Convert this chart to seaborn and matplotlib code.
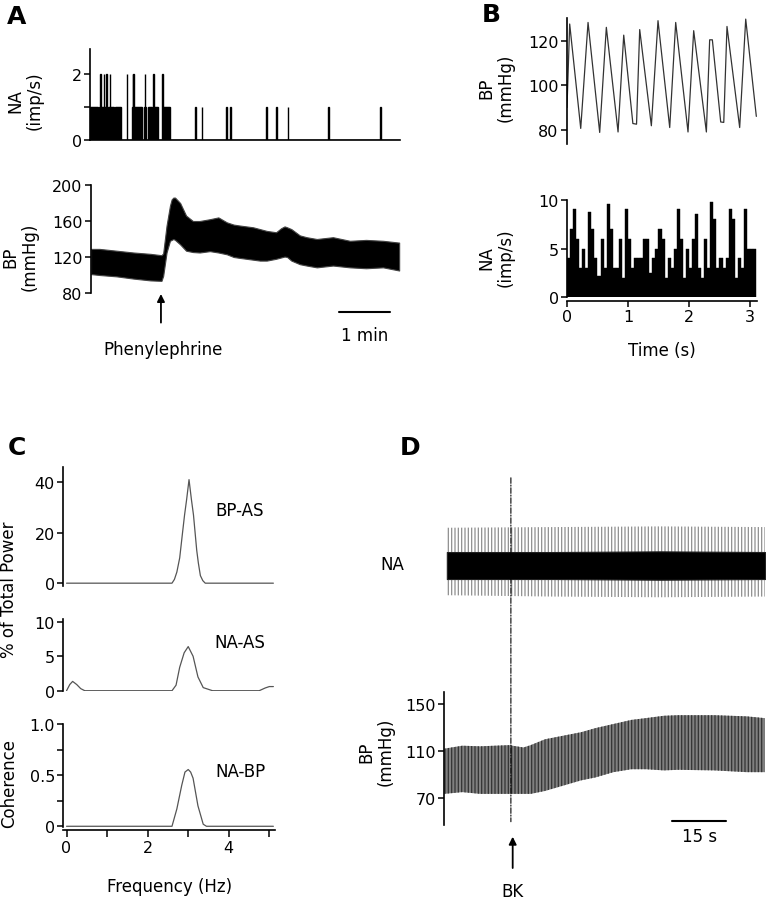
import numpy as np
import matplotlib
matplotlib.use("Agg")
import matplotlib.pyplot as plt
from matplotlib.patches import ConnectionPatch
from matplotlib.ticker import FixedLocator
import seaborn as sns

# ---------------- data ----------------
# A: nerve activity (imp/s, 1 s bins) and BP envelope around phenylephrine
na_a_sec = [0, 1, 2, 3, 4, 5, 6, 7, 8, 11, 12, 13, 14, 15, 16, 17, 18, 19,
            21, 22, 23, 24, 25, 26, 27, 29, 30, 31, 32, 33, 34, 35, 43,
            49, 50, 51, 52, 53, 54, 55, 56, 57, 58, 59, 60, 63, 64, 65,
            68, 69, 70, 71, 72, 74, 75, 76, 77, 78, 79,
            85, 86, 87, 88, 89, 90, 91, 92, 93,
            123, 131, 160, 164, 207, 218, 232, 280, 341]
na_a_rate = [1, 1, 1, 1, 1, 1, 1, 1, 1, 1, 2, 1, 1, 1, 2, 1, 1, 2,
             1, 1, 2, 1, 1, 1, 1, 1, 1, 1, 1, 1, 1, 1, 2,
             1, 2, 2, 1, 1, 1, 1, 1, 1, 1, 1, 1, 1, 2, 1,
             1, 1, 1, 1, 1, 2, 1, 1, 1, 1, 1,
             2, 1, 1, 1, 1, 1, 1, 1, 1,
             1, 1, 1, 1, 1, 1, 1, 1, 1]
bp_a_t = [0, 10, 30, 50, 70, 83, 85, 89, 93, 95, 97, 99, 105, 112, 120, 128,
          140, 150, 160, 168, 175, 183, 191, 199, 207, 218, 224, 228, 231,
          236, 246, 254, 266, 285, 305, 324, 344, 363]
bp_a_hi = [129, 129, 127, 125, 123.5, 122, 124, 155, 177, 184, 186, 186, 180,
           166, 160, 160, 162, 164, 158.5, 156, 155, 154, 153, 151, 149,
           147.5, 152, 154, 153, 151, 144, 142, 140, 142, 138, 139, 138, 136]
bp_a_lo = [101, 100, 98.5, 96, 94, 93.5, 99, 125, 138, 139, 140, 139, 134,
           127, 125.5, 125, 126.5, 125, 123, 120, 119, 118, 117, 116, 116,
           118, 119.5, 120.5, 120, 116, 112, 110.5, 108.5, 110.5, 108.5,
           107.5, 108.5, 105]
phe_t = 82.4

# B: 3 s of BP (mmHg) and NA (imp/s, 50 ms bins)
bp_b_t = [0.0, 0.044, 0.225, 0.345, 0.536, 0.645, 0.837, 0.93, 1.08, 1.14,
          1.192, 1.383, 1.492, 1.684, 1.782, 1.984, 2.077, 2.285, 2.339,
          2.383, 2.52, 2.57, 2.623, 2.831, 2.93, 3.104]
bp_b_val = [90, 127.5, 80.6, 128.2, 78.8, 126, 79, 122.5, 82.8, 82.5, 125,
            81.8, 129, 81, 128.2, 79, 124.5, 79, 120.4, 120.4, 83.5, 83.3,
            126.4, 81, 129.7, 86]
na_b_binw = 0.05
na_b_rate = [4, 7, 9, 6, 3, 5, 3, 8.7, 7, 4,
             2.2, 6, 3, 9.6, 7, 3, 3, 6, 2, 9,
             6, 3, 4, 4, 4, 6, 6, 2.5, 4, 5,
             7, 6, 2, 4, 3, 5, 9, 6, 2, 5,
             3, 6, 8.5, 3, 2, 6, 3, 9.8, 8, 3,
             4, 3, 4, 9, 8, 2, 4, 3, 9, 5,
             5, 5]

# C: spectra (% of total power) and coherence
f_bp = [0, 2.6, 2.66, 2.72, 2.79, 2.86, 2.91, 2.96, 3.02, 3.08, 3.13, 3.17,
        3.21, 3.25, 3.3, 3.36, 3.42, 5.1]
p_bp = [0, 0, 1.5, 4.4, 10, 20, 27, 33, 41, 33, 27, 20, 13, 8, 3, 1, 0, 0]
f_na = [0, 0.08, 0.15, 0.25, 0.35, 0.45, 2.6, 2.7, 2.79, 2.9, 3.0, 3.12,
        3.24, 3.37, 3.6, 4.75, 4.9, 5.0, 5.1]
p_na = [0, 0.9, 1.35, 0.9, 0.3, 0, 0, 0.8, 3.4, 5.5, 6.4, 5.0, 2.0, 0.45,
        0, 0, 0.4, 0.6, 0.6]
f_coh = [0, 2.6, 2.72, 2.84, 2.92, 3.0, 3.06, 3.12, 3.24, 3.37, 3.45, 5.1]
coh = [0, 0, 0.17, 0.4, 0.53, 0.555, 0.53, 0.47, 0.2, 0.02, 0, 0]

# D: raw NA band and BP envelope around bradykinin (BK)
na_d_t = [0.7, 30, 60, 89.1]
na_d_band_hi = [1.0, 1.0, 1.05, 1.0]
na_d_band_lo = [-1.0, -1.0, -1.05, -1.0]
na_d_spk_hi = [2.8, 2.85, 2.9, 2.85]
na_d_spk_lo = [-2.2, -2.3, -2.35, -2.3]
bp_d_t = [0, 5, 10, 18, 22, 24, 28, 33, 38, 42, 47, 52, 56, 61, 65, 75, 84, 89]
bp_d_hi = [112, 114.5, 114, 115, 113, 115, 120, 123, 126, 129.5, 133, 136.5,
           138, 140, 140.5, 140.5, 139.5, 138]
bp_d_lo = [73.5, 75, 73.5, 73.5, 73.5, 73.5, 76, 80.5, 85, 87.5, 92, 94.5,
           94.5, 93.5, 94, 93.5, 92, 92]
bk_t = 18.5

# ---------------- style ----------------
sns.set_style("ticks")
plt.rcParams['font.family'] = ['DejaVu Sans']
plt.rcParams['hatch.linewidth'] = 0.9
for k in ['text.color', 'axes.labelcolor', 'xtick.color', 'ytick.color',
          'axes.edgecolor']:
    plt.rcParams[k] = 'black'
TICK = 11.5
LAB = 12

W, H = 768, 903
fig = plt.figure(figsize=(W / 100, H / 100), dpi=100)


def add_ax(l, t, r, b):
    ax = fig.add_axes([l / W, 1 - b / H, (r - l) / W, (b - t) / H])
    ax.set_facecolor('none')
    for s in ax.spines.values():
        s.set_linewidth(1.2)
    ax.tick_params(direction='out', length=4, width=1.1, labelsize=TICK, pad=2)
    ax.tick_params(which='minor', direction='out', length=4, width=1.1)
    return ax


def y_only(ax):
    sns.despine(ax=ax, bottom=True)
    ax.set_xticks([])
    ax.set_xlabel("")
    ax.set_ylabel("")


def ylab(x, y, s):
    fig.text(x / W, 1 - y / H, s, rotation=90, ha='center', va='center',
             multialignment='center', fontsize=LAB, linespacing=1.05)


# ---------------- A ----------------
ax = add_ax(90, 50, 400, 141)
sns.histplot(x=np.array(na_a_sec) + 0.5, weights=na_a_rate, binwidth=1,
             binrange=(0, 364), color='black', edgecolor='black',
             linewidth=1.0, alpha=1, ax=ax)
ax.set_xlim(0, 364)
ax.set_ylim(0, 2.75)
sns.despine(ax=ax)
ax.set_xticks([])
ax.set_yticks([0, 2])
ax.yaxis.set_minor_locator(FixedLocator([1]))
ax.set_xlabel("")
ax.set_ylabel("")
ylab(25, 101, "NA\n(imp/s)")

ax = add_ax(91, 186, 400, 294)
ax.fill_between(bp_a_t, bp_a_lo, bp_a_hi, facecolor='black',
                edgecolor='#444444', lw=0.8)
ax.set_xlim(0, 364)
ax.set_ylim(80, 200)
ax.set_yticks([80, 120, 160, 200])
y_only(ax)
ylab(20, 257, "BP\n(mmHg)")
ax.annotate("", xy=(phe_t, 82), xytext=(phe_t, 44),
            arrowprops=dict(arrowstyle='-|>', color='k', lw=1.3,
                            mutation_scale=11), annotation_clip=False)
ax.text(phe_t + 2, 18, "Phenylephrine", ha='center', va='center',
        fontsize=LAB, clip_on=False)
ax.plot([291.8, 351.8], [59, 59], color='k', lw=1.5, clip_on=False)
ax.text(322, 33, "1 min", ha='center', va='center', fontsize=LAB,
        clip_on=False)

# ---------------- B ----------------
ax = add_ax(567, 19, 757, 145)
sns.lineplot(x=bp_b_t, y=bp_b_val, color='#333333', lw=0.9, ax=ax)
ax.set_xlim(0, 3.115)
ax.set_ylim(73.6, 130.2)
ax.set_yticks([80, 100, 120])
y_only(ax)
ylab(496, 88, "BP\n(mmHg)")

ax = add_ax(567, 200.7, 757, 298.3)
centers = np.arange(len(na_b_rate)) * na_b_binw + na_b_binw / 2
sns.histplot(x=centers, weights=na_b_rate, binwidth=na_b_binw,
             binrange=(0, len(na_b_rate) * na_b_binw), color='black',
             edgecolor='black', linewidth=0.3, alpha=1, ax=ax)
ax.set_xlim(0, 3.115)
ax.set_ylim(0, 10)
ax.set_yticks([0, 5, 10])
ax.set_xticks([0, 1, 2, 3])
sns.despine(ax=ax)
ax.spines['bottom'].set_position(('outward', 2.5))
ax.set_ylabel("")
ax.set_xlabel("Time (s)", fontsize=LAB, labelpad=12)
ylab(496, 258, "NA\n(imp/s)")

# ---------------- C ----------------
ax = add_ax(63.3, 468, 275, 586.7)
sns.lineplot(x=f_bp, y=p_bp, color='#555555', lw=0.9, ax=ax)
ax.set_xlim(-0.08, 5.14)
ax.set_ylim(-1, 46)
ax.set_yticks([0, 20, 40])
y_only(ax)
ax.text(4.28, 29, "BP-AS", ha='center', va='center', fontsize=LAB)

ax = add_ax(63.3, 620, 275, 692.4)
sns.lineplot(x=f_na, y=p_na, color='#555555', lw=0.9, ax=ax)
ax.set_xlim(-0.08, 5.14)
ax.set_ylim(-0.1, 10.4)
ax.set_yticks([0, 5, 10])
y_only(ax)
ax.text(4.28, 7.0, "NA-AS", ha='center', va='center', fontsize=LAB)

ax = add_ax(63.3, 725, 275, 828.3)
sns.lineplot(x=f_coh, y=coh, color='#555555', lw=0.9, ax=ax)
ax.set_xlim(-0.08, 5.14)
ax.set_ylim(-0.01, 1.0)
ax.set_yticks([0, 0.5, 1.0])
ax.set_yticklabels(["0", "0.5", "1.0"])
ax.yaxis.set_minor_locator(FixedLocator([0.25, 0.75]))
ax.set_xticks([0, 2, 4])
ax.xaxis.set_minor_locator(FixedLocator([1, 3, 5]))
ax.tick_params(axis='x', which='both', length=5)
sns.despine(ax=ax)
ax.spines['bottom'].set_position(('outward', 2))
ax.set_ylabel("")
ax.set_xlabel("Frequency (Hz)", fontsize=LAB, labelpad=16)
ax.text(4.28, 0.54, "NA-BP", ha='center', va='center', fontsize=LAB)

ylab(9, 590, "% of Total Power")
ylab(9, 784, "Coherence")

# ---------------- D ----------------
ax_na = add_ax(444.3, 478, 765, 600)
ax_na.fill_between(na_d_t, na_d_spk_lo, na_d_spk_hi, facecolor='none',
                   edgecolor='#8f8f8f', hatch='|||||', lw=0)
ax_na.fill_between(na_d_t, na_d_band_lo, na_d_band_hi, facecolor='black',
                   edgecolor='#222222', lw=0.8)
ax_na.set_xlim(0, 89.1)
ax_na.set_ylim(-2.48, 6.56)
ax_na.axis('off')
fig.text(380 / W, 1 - 565 / H, "NA", ha='left', va='center', fontsize=LAB)

ax_bp = add_ax(444.3, 692.7, 765, 826)
ax_bp.fill_between(bp_d_t, bp_d_lo, bp_d_hi, facecolor='#808080',
                   edgecolor='#333333', hatch='|||||', lw=0)
ax_bp.set_xlim(0, 89.1)
ax_bp.set_ylim(47, 160.5)
ax_bp.set_yticks([70, 110, 150])
y_only(ax_bp)
ylab(376, 752, "BP\n(mmHg)")
ax_bp.plot([63.4, 78.4], [50.7, 50.7], color='k', lw=1.5, clip_on=False)
ax_bp.text(70.9, 37.5, "15 s", ha='center', va='center', fontsize=LAB,
           clip_on=False)
ax_bp.annotate("", xy=(bk_t + 0.5, 39.4), xytext=(bk_t + 0.5, 8),
               arrowprops=dict(arrowstyle='-|>', color='k', lw=1.3,
                               mutation_scale=11), annotation_clip=False)
ax_bp.text(bk_t + 0.5, -9, "BK", ha='center', va='center', fontsize=LAB,
           clip_on=False)
con = ConnectionPatch(xyA=(bk_t, 6.5), coordsA=ax_na.transData,
                      xyB=(bk_t, 49.8), coordsB=ax_bp.transData,
                      linestyle=(0, (5, 1.5, 1, 1.5)), lw=0.8, color='k')
fig.add_artist(con)

# ---------------- panel letters ----------------
for lx, ly, s in [(7, 24, "A"), (482, 22, "B"), (8, 455, "C"), (400, 455, "D")]:
    fig.text(lx / W, 1 - ly / H, s, fontsize=18, fontweight='bold',
             ha='left', va='baseline')

fig.savefig("out.png", dpi=100)
